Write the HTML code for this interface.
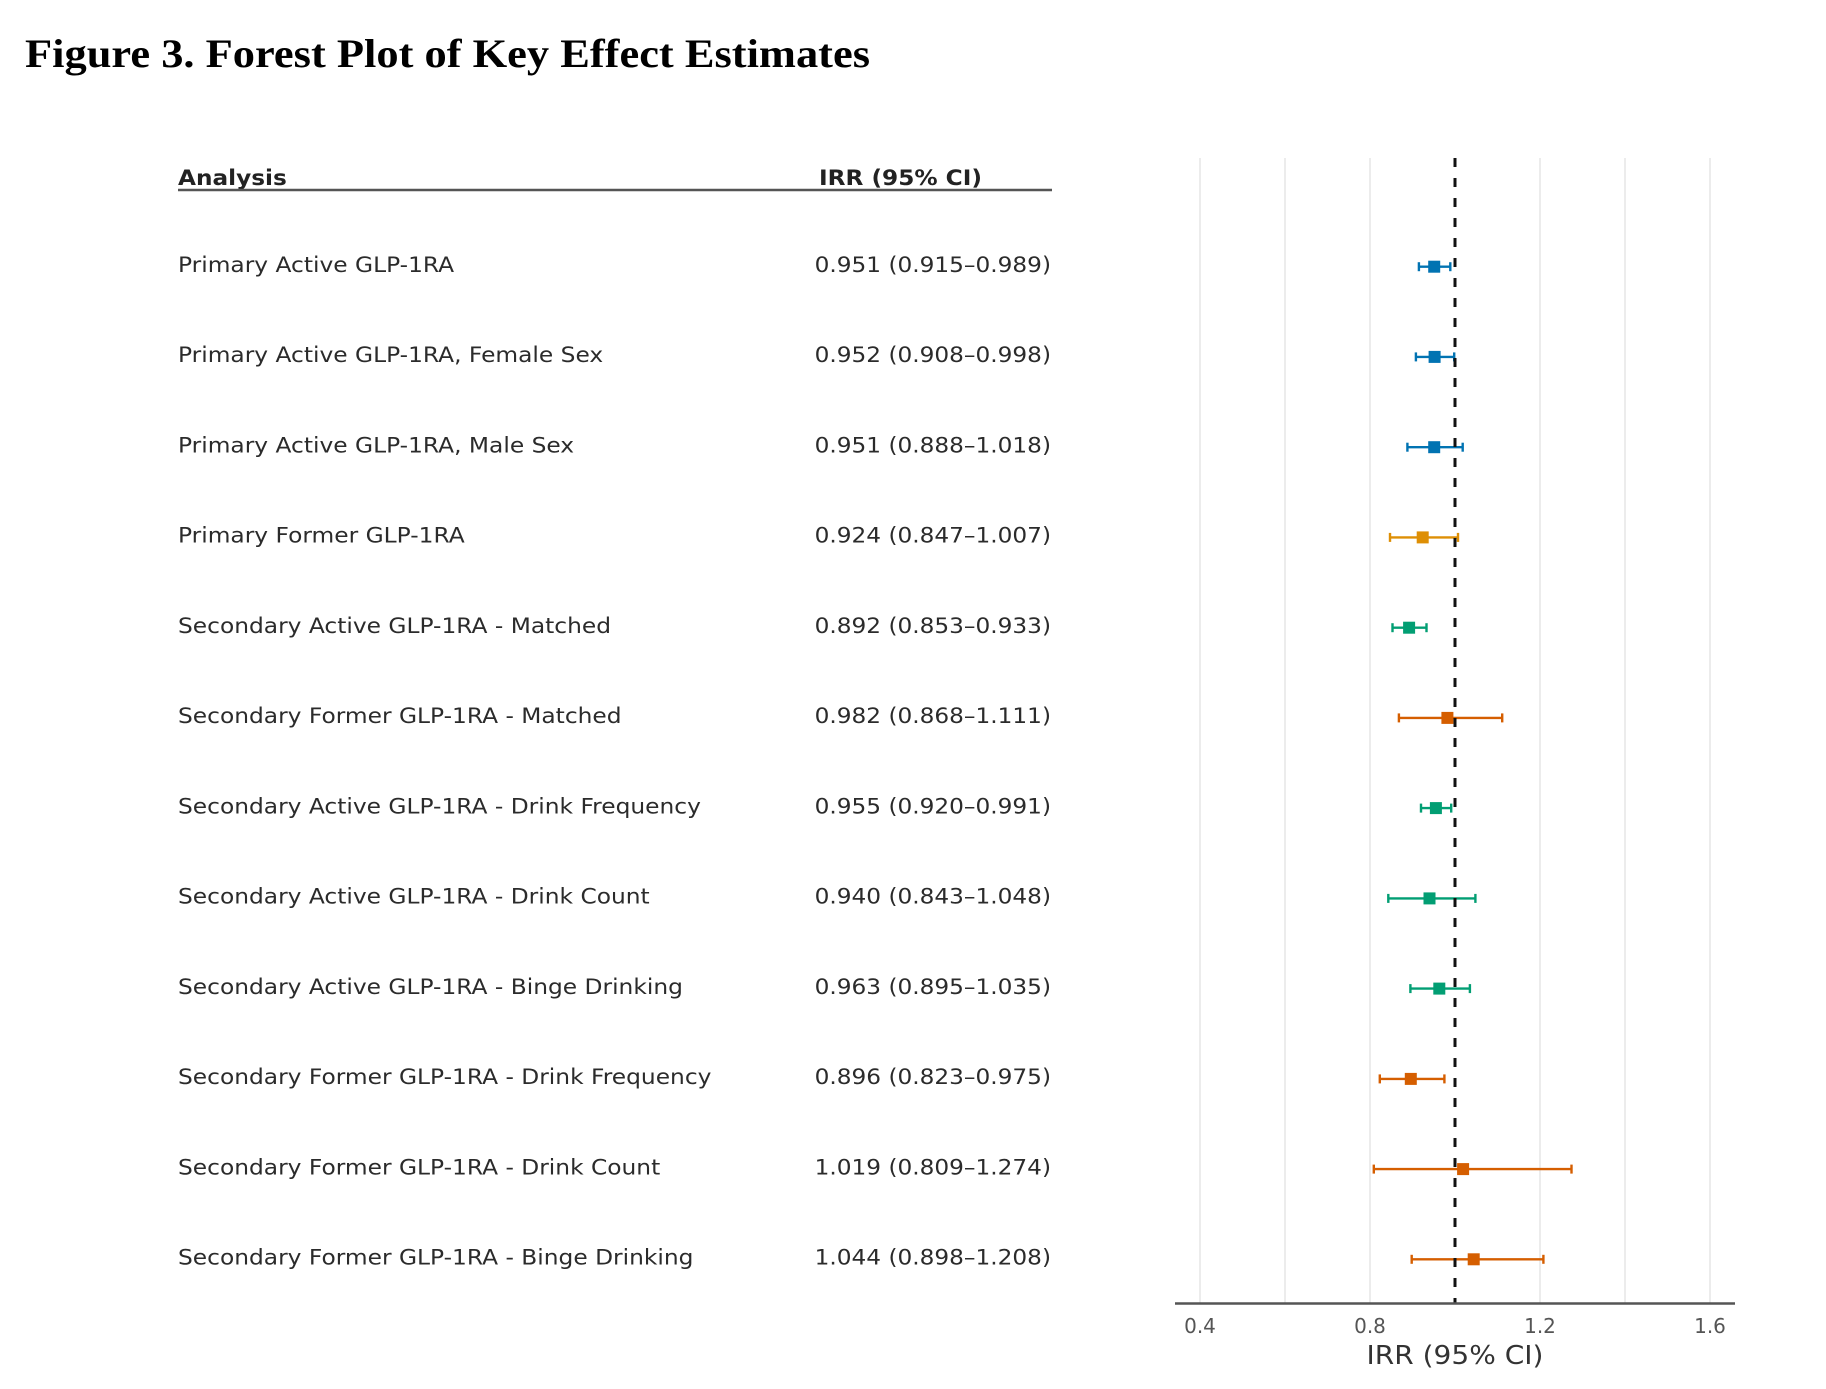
<!DOCTYPE html>
<html>
<head>
<meta charset="utf-8">
<style>
html,body{margin:0;padding:0;background:#fff;}
svg{display:block;}
</style>
</head>
<body>
<svg width="1826" height="1389" viewBox="0 0 1826 1389" xmlns="http://www.w3.org/2000/svg">
<rect x="0" y="0" width="1826" height="1389" fill="#ffffff"/>

<!-- Title -->
<text x="25" y="67" font-family="'Liberation Serif', serif" font-weight="bold" font-size="40" fill="#000" textLength="845" lengthAdjust="spacingAndGlyphs">Figure 3. Forest Plot of Key Effect Estimates</text>

<!-- Table header -->
<g font-family="'DejaVu Sans', 'Liberation Sans', sans-serif" font-weight="bold" font-size="21.5" fill="#222">
  <g transform="translate(178 0) scale(1.08 1)"><text x="0" y="185">Analysis</text></g>
  <g transform="translate(819 0) scale(1.08 1)"><text x="0" y="185">IRR (95% CI)</text></g>
</g>
<line x1="178" y1="190" x2="1052" y2="190" stroke="#555" stroke-width="2.5"/>

<!-- Row labels -->
<g font-family="'DejaVu Sans', 'Liberation Sans', sans-serif" font-size="21.5" fill="#2b2b2b">
  <g transform="translate(178 0) scale(1.085 1)">
    <text x="0" y="272">Primary Active GLP-1RA</text>
    <text x="0" y="362.2">Primary Active GLP-1RA, Female Sex</text>
    <text x="0" y="452.5">Primary Active GLP-1RA, Male Sex</text>
    <text x="0" y="542.7">Primary Former GLP-1RA</text>
    <text x="0" y="633">Secondary Active GLP-1RA - Matched</text>
    <text x="0" y="723.2">Secondary Former GLP-1RA - Matched</text>
    <text x="0" y="813.4">Secondary Active GLP-1RA - Drink Frequency</text>
    <text x="0" y="903.7">Secondary Active GLP-1RA - Drink Count</text>
    <text x="0" y="993.9">Secondary Active GLP-1RA - Binge Drinking</text>
    <text x="0" y="1084.2">Secondary Former GLP-1RA - Drink Frequency</text>
    <text x="0" y="1174.4">Secondary Former GLP-1RA - Drink Count</text>
    <text x="0" y="1264.6">Secondary Former GLP-1RA - Binge Drinking</text>
  </g>
  <g transform="translate(1051 0) scale(1.08 1)" text-anchor="end">
    <text x="0" y="272">0.951 (0.915–0.989)</text>
    <text x="0" y="362.2">0.952 (0.908–0.998)</text>
    <text x="0" y="452.5">0.951 (0.888–1.018)</text>
    <text x="0" y="542.7">0.924 (0.847–1.007)</text>
    <text x="0" y="633">0.892 (0.853–0.933)</text>
    <text x="0" y="723.2">0.982 (0.868–1.111)</text>
    <text x="0" y="813.4">0.955 (0.920–0.991)</text>
    <text x="0" y="903.7">0.940 (0.843–1.048)</text>
    <text x="0" y="993.9">0.963 (0.895–1.035)</text>
    <text x="0" y="1084.2">0.896 (0.823–0.975)</text>
    <text x="0" y="1174.4">1.019 (0.809–1.274)</text>
    <text x="0" y="1264.6">1.044 (0.898–1.208)</text>
  </g>
</g>

<!-- Grid -->
<g stroke="#ececec" stroke-width="2">
  <line x1="1200" y1="158" x2="1200" y2="1303"/>
  <line x1="1285" y1="158" x2="1285" y2="1303"/>
  <line x1="1370" y1="158" x2="1370" y2="1303"/>
  <line x1="1540" y1="158" x2="1540" y2="1303"/>
  <line x1="1625" y1="158" x2="1625" y2="1303"/>
  <line x1="1710" y1="158" x2="1710" y2="1303"/>
</g>

<!-- Error bars and markers -->
<g stroke-width="2.4">
  <g stroke="#0173b2" fill="#0173b2">
    <line x1="1418.9" y1="266.7" x2="1450.3" y2="266.7"/>
    <line x1="1418.9" y1="262.2" x2="1418.9" y2="271.2"/>
    <line x1="1450.3" y1="262.2" x2="1450.3" y2="271.2"/>
    <rect x="1428.2" y="260.7" width="12" height="12" stroke="none"/>
  </g>
  <g stroke="#0173b2" fill="#0173b2">
    <line x1="1415.9" y1="356.9" x2="1454.2" y2="356.9"/>
    <line x1="1415.9" y1="352.4" x2="1415.9" y2="361.4"/>
    <line x1="1454.2" y1="352.4" x2="1454.2" y2="361.4"/>
    <rect x="1428.6" y="350.9" width="12" height="12" stroke="none"/>
  </g>
  <g stroke="#0173b2" fill="#0173b2">
    <line x1="1407.4" y1="447.2" x2="1462.7" y2="447.2"/>
    <line x1="1407.4" y1="442.7" x2="1407.4" y2="451.7"/>
    <line x1="1462.7" y1="442.7" x2="1462.7" y2="451.7"/>
    <rect x="1428.2" y="441.2" width="12" height="12" stroke="none"/>
  </g>
  <g stroke="#de8f05" fill="#de8f05">
    <line x1="1390.0" y1="537.4" x2="1458.0" y2="537.4"/>
    <line x1="1390.0" y1="532.9" x2="1390.0" y2="541.9"/>
    <line x1="1458.0" y1="532.9" x2="1458.0" y2="541.9"/>
    <rect x="1416.7" y="531.4" width="12" height="12" stroke="none"/>
  </g>
  <g stroke="#029e73" fill="#029e73">
    <line x1="1392.5" y1="627.7" x2="1426.5" y2="627.7"/>
    <line x1="1392.5" y1="623.2" x2="1392.5" y2="632.2"/>
    <line x1="1426.5" y1="623.2" x2="1426.5" y2="632.2"/>
    <rect x="1403.1" y="621.7" width="12" height="12" stroke="none"/>
  </g>
  <g stroke="#d55e00" fill="#d55e00">
    <line x1="1398.9" y1="717.9" x2="1502.2" y2="717.9"/>
    <line x1="1398.9" y1="713.4" x2="1398.9" y2="722.4"/>
    <line x1="1502.2" y1="713.4" x2="1502.2" y2="722.4"/>
    <rect x="1441.4" y="711.9" width="12" height="12" stroke="none"/>
  </g>
  <g stroke="#029e73" fill="#029e73">
    <line x1="1421.0" y1="808.1" x2="1451.2" y2="808.1"/>
    <line x1="1421.0" y1="803.6" x2="1421.0" y2="812.6"/>
    <line x1="1451.2" y1="803.6" x2="1451.2" y2="812.6"/>
    <rect x="1429.9" y="802.1" width="12" height="12" stroke="none"/>
  </g>
  <g stroke="#029e73" fill="#029e73">
    <line x1="1388.3" y1="898.4" x2="1475.4" y2="898.4"/>
    <line x1="1388.3" y1="893.9" x2="1388.3" y2="902.9"/>
    <line x1="1475.4" y1="893.9" x2="1475.4" y2="902.9"/>
    <rect x="1423.5" y="892.4" width="12" height="12" stroke="none"/>
  </g>
  <g stroke="#029e73" fill="#029e73">
    <line x1="1410.4" y1="988.6" x2="1469.9" y2="988.6"/>
    <line x1="1410.4" y1="984.1" x2="1410.4" y2="993.1"/>
    <line x1="1469.9" y1="984.1" x2="1469.9" y2="993.1"/>
    <rect x="1433.3" y="982.6" width="12" height="12" stroke="none"/>
  </g>
  <g stroke="#d55e00" fill="#d55e00">
    <line x1="1379.8" y1="1078.9" x2="1444.4" y2="1078.9"/>
    <line x1="1379.8" y1="1074.4" x2="1379.8" y2="1083.4"/>
    <line x1="1444.4" y1="1074.4" x2="1444.4" y2="1083.4"/>
    <rect x="1404.8" y="1072.9" width="12" height="12" stroke="none"/>
  </g>
  <g stroke="#d55e00" fill="#d55e00">
    <line x1="1373.8" y1="1169.1" x2="1571.5" y2="1169.1"/>
    <line x1="1373.8" y1="1164.6" x2="1373.8" y2="1173.6"/>
    <line x1="1571.5" y1="1164.6" x2="1571.5" y2="1173.6"/>
    <rect x="1457.1" y="1163.1" width="12" height="12" stroke="none"/>
  </g>
  <g stroke="#d55e00" fill="#d55e00">
    <line x1="1411.7" y1="1259.3" x2="1543.4" y2="1259.3"/>
    <line x1="1411.7" y1="1254.8" x2="1411.7" y2="1263.8"/>
    <line x1="1543.4" y1="1254.8" x2="1543.4" y2="1263.8"/>
    <rect x="1467.7" y="1253.3" width="12" height="12" stroke="none"/>
  </g>
</g>

<!-- Reference dashed line at 1.0 -->
<line x1="1455" y1="158" x2="1455" y2="1303" stroke="#111" stroke-width="3" stroke-dasharray="9 11"/>

<!-- Axis spine -->
<line x1="1175" y1="1303.5" x2="1735" y2="1303.5" stroke="#555" stroke-width="2.5"/>

<!-- Tick labels -->
<g font-family="'DejaVu Sans', 'Liberation Sans', sans-serif" font-size="20" fill="#555" text-anchor="middle">
  <text x="1200" y="1333">0.4</text>
  <text x="1370" y="1333">0.8</text>
  <text x="1540" y="1333">1.2</text>
  <text x="1710" y="1333">1.6</text>
</g>

<!-- Axis label -->
<text x="1366.5" y="1364" font-family="'DejaVu Sans', 'Liberation Sans', sans-serif" font-size="26" fill="#333" textLength="177" lengthAdjust="spacingAndGlyphs">IRR (95% CI)</text>
</svg>
</body>
</html>
